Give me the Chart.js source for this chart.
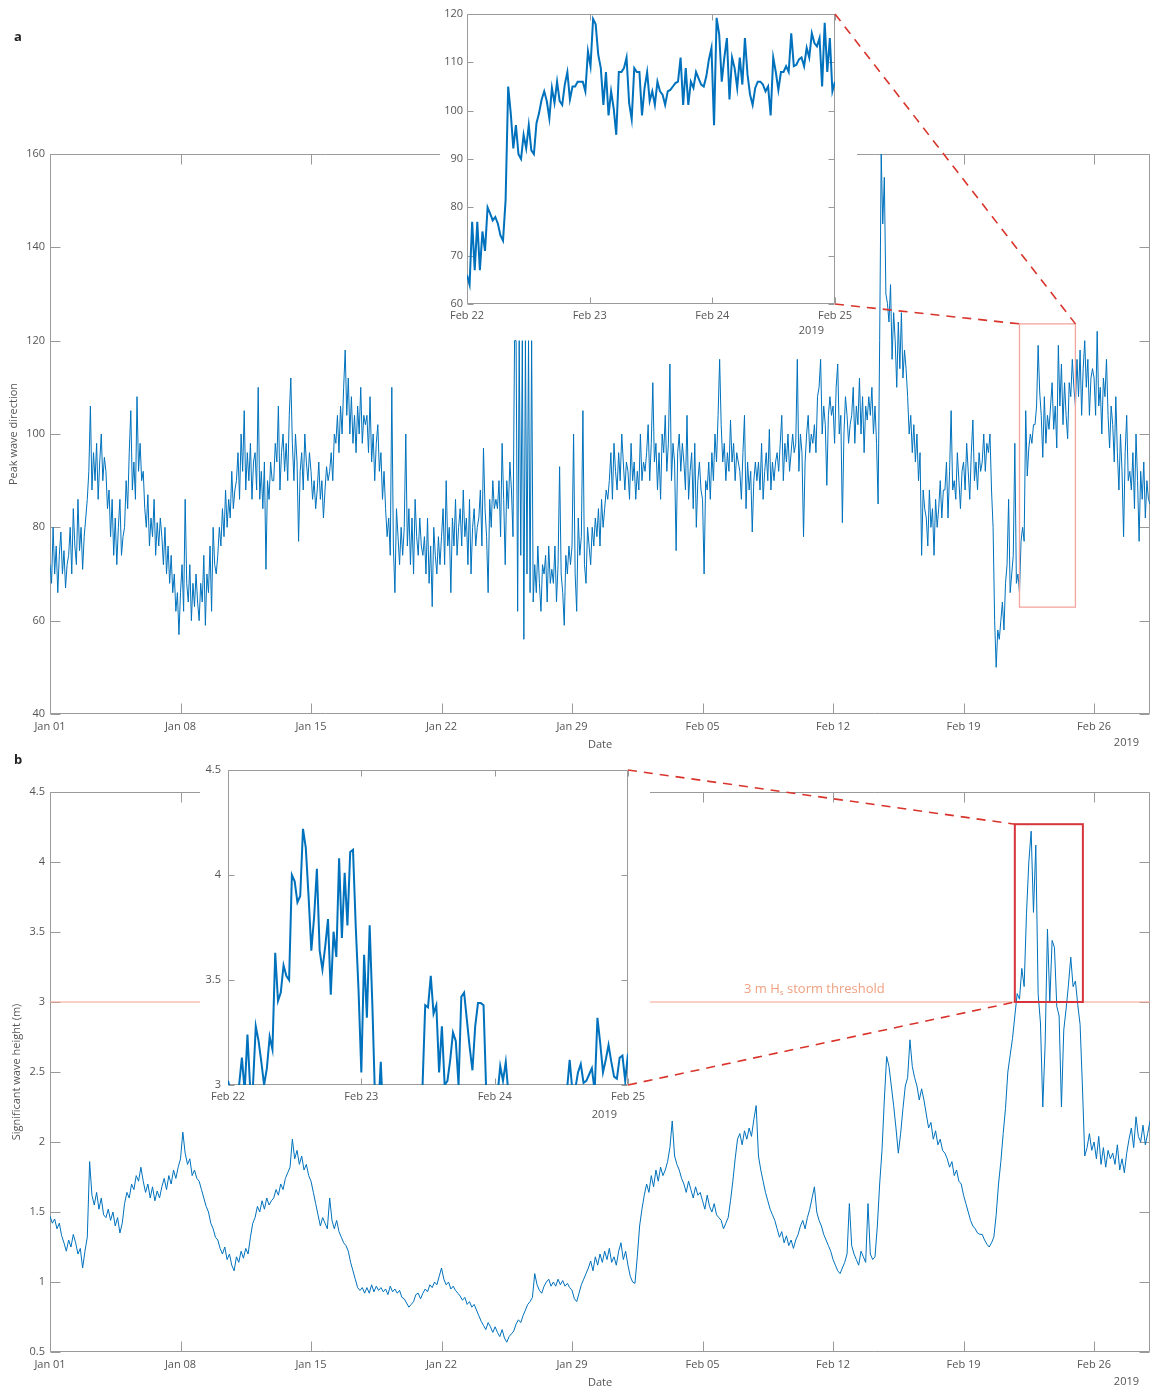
<!DOCTYPE html>
<html>
<head>
<meta charset="utf-8">
<script src="https://cdn.jsdelivr.net/npm/chart.js@4.4.1/dist/chart.umd.min.js"></script>
<style>
body { margin: 0; background: #fff; }
#page { position: relative; width: 1150px; height: 1391px; overflow: hidden; font-family: "Open Sans", sans-serif; }
canvas { position: absolute; }
.panel { position: absolute; font-weight: bold; font-size: 13px; color: #222; z-index: 5; }
</style>
</head>
<body>
<div id="page">
  <canvas id="main-a" style="z-index:1"></canvas>
  <canvas id="inset-a" style="z-index:2"></canvas>
  <canvas id="main-b" style="z-index:1"></canvas>
  <canvas id="inset-b" style="z-index:2"></canvas>
  <canvas id="links" width="1150" height="1391" style="left:0;top:0;z-index:3"></canvas>
  <div class="panel" style="left:14px;top:27px">a</div>
  <div class="panel" style="left:14px;top:750px">b</div>
</div>
<script>
// x axis is in days since Jan 01 2019
const main_tick_days = [0, 7, 14, 21, 28, 35, 42, 49, 56];
const main_tick_labels = ['Jan 01', 'Jan 08', 'Jan 15', 'Jan 22', 'Jan 29', 'Feb 05', 'Feb 12', 'Feb 19', 'Feb 26'];
const inset_tick_days = [52, 53, 54, 55];
const inset_tick_labels = ['Feb 22', 'Feb 23', 'Feb 24', 'Feb 25'];
const year_label = '2019';

// peak wave direction, every 2 hours from Jan 01 (one row per day)
const peak_dir = [
    72, 68, 80, 70, 76, 66, 74, 79, 70, 75, 67, 72,
    74, 80, 70, 84, 76, 72, 86, 75, 80, 71, 78, 82,
    86, 92, 106, 88, 96, 90, 98, 86, 94, 100, 90, 95,
    92, 84, 88, 78, 86, 74, 82, 72, 80, 86, 74, 78,
    80, 90, 84, 96, 105, 88, 94, 86, 108, 92, 98, 90,
    92, 84, 80, 87, 76, 82, 78, 86, 74, 81, 76, 82,
    78, 72, 80, 70, 76, 68, 74, 66, 70, 62, 66, 57,
    66, 72, 62, 86, 68, 64, 72, 60, 68, 63, 70, 64,
    60, 68, 64, 74, 59, 70, 66, 76, 62, 80, 72, 70,
    74, 80, 76, 84, 78, 88, 80, 86, 82, 92, 84, 88,
    90, 96, 86, 100, 92, 105, 88, 96, 90, 98, 86, 94,
    96, 88, 110, 86, 92, 84, 94, 71, 90, 86, 94, 90,
    90, 98, 94, 106, 88, 96, 100, 92, 98, 90, 104, 112,
    98, 90, 100, 94, 77, 92, 96, 88, 100, 94, 90, 96,
    92, 86, 90, 84, 88, 94, 86, 90, 82, 88, 93, 90,
    92, 96, 90, 100, 98, 104, 96, 106, 100, 110, 118, 104,
    112, 100, 108, 98, 104, 96, 106, 100, 110, 98, 104, 102,
    104, 96, 108, 94, 100, 90, 98, 102, 92, 96, 86, 92,
    84, 78, 82, 74, 110, 76, 66, 84, 78, 72, 80, 74,
    80, 100, 76, 84, 72, 82, 70, 86, 78, 74, 82, 76,
    74, 78, 70, 82, 68, 76, 63, 80, 74, 70, 78, 72,
    78, 84, 72, 90, 76, 80, 66, 82, 76, 86, 74, 80,
    84, 76, 88, 78, 82, 72, 86, 70, 80, 84, 76, 80,
    82, 88, 76, 97, 84, 78, 66, 86, 80, 90, 84, 86,
    84, 90, 78, 98, 86, 72, 90, 84, 94, 88, 78, 120,
    120, 62, 120, 74, 120, 56, 120, 70, 120, 66, 120, 64,
    72, 66, 76, 68, 62, 72, 70, 74, 64, 76, 68, 71,
    68, 76, 64, 72, 93, 70, 66, 59, 74, 70, 76, 72,
    76, 100, 70, 62, 82, 74, 78, 105, 72, 68, 80, 76,
    72, 80, 76, 82, 78, 84, 76, 86, 80, 84, 88, 86,
    90, 96, 86, 98, 92, 88, 96, 90, 100, 94, 88, 94,
    92, 86, 98, 90, 94, 86, 92, 88, 100, 90, 94, 92,
    96, 102, 90, 98, 111, 94, 98, 88, 96, 86, 100, 96,
    104, 92, 98, 115, 90, 98, 94, 75, 96, 100, 92, 98,
    94, 88, 104, 86, 92, 96, 84, 98, 80, 90, 94, 88,
    86, 70, 90, 88, 94, 86, 96, 90, 100, 94, 104, 116,
    102, 94, 98, 90, 96, 92, 103, 94, 98, 90, 96, 94,
    92, 86, 96, 104, 84, 94, 88, 92, 79, 90, 94, 90,
    94, 88, 98, 86, 92, 96, 90, 101, 88, 94, 90, 94,
    96, 92, 98, 104, 90, 98, 94, 100, 92, 96, 100, 96,
    98, 116, 92, 100, 96, 78, 94, 100, 104, 96, 100, 98,
    102, 96, 108, 110, 116, 100, 106, 102, 89, 104, 108, 104,
    106, 98, 110, 115, 100, 104, 81, 100, 108, 104, 98, 102,
    104, 110, 98, 106, 102, 112, 100, 108, 96, 106, 103, 108,
    104, 110, 100, 106, 98, 85, 120, 160, 145, 155, 130, 128,
    124, 132, 116, 126, 120, 110, 124, 114, 126, 112, 118, 114,
    108, 100, 104, 96, 102, 94, 100, 90, 96, 74, 88, 84,
    82, 76, 88, 80, 84, 74, 86, 80, 84, 90, 82, 88,
    88, 94, 82, 92, 105, 88, 90, 86, 96, 90, 84, 92,
    94, 88, 98, 92, 86, 96, 103, 90, 94, 88, 96, 92,
    94, 100, 92, 98, 96, 100, 88, 80, 60, 50, 58, 56,
    60, 64, 58, 68, 72, 86, 66, 70, 74, 98, 68, 70,
    66, 77, 80, 77, 105, 91, 97, 100, 98, 102, 102, 106,
    119, 109, 104, 95, 108, 98, 104, 101, 106, 111, 101, 106,
    97, 119, 106, 115, 102, 111, 104, 99, 111, 108, 116, 110,
    106, 116, 108, 118, 104, 114, 120, 110, 116, 104, 112, 114,
    112, 104, 122, 106, 110, 100, 112, 108, 116, 104, 97, 106,
    102, 94, 108, 96, 88, 100, 92, 78, 96, 104, 90, 92,
    88, 96, 84, 100, 90, 77, 92, 86, 94, 82, 90, 86,
    85
];

// peak wave direction, Feb 22 - Feb 25, half hourly
const peak_dir_zoom = [
    66, 64, 77, 67, 77, 67, 75, 71, 80, 78.7,
    77.3, 78, 76.6, 74.2, 73.1, 81.5, 105, 99.5, 92.2, 97,
    91, 90, 95, 92.2, 97, 91.8, 91, 97.4, 99.5, 102.3,
    104, 102, 98.4, 104.7, 101.6, 106, 102, 101.2, 105.4, 108,
    102.3, 105, 105, 106, 106, 106, 104, 112.3, 109.2, 119,
    117.9, 111.6, 108.8, 101.2, 108, 99, 104, 100.5, 95, 108,
    108, 108.8, 111, 101.6, 98.2, 108.8, 108, 108, 99, 104.7,
    108, 102, 104, 101.2, 106, 104, 103.3, 101.2, 104, 104.3,
    105, 105.7, 106, 111, 101.2, 108.8, 101.2, 106, 104.7, 108,
    106.7, 105.4, 105, 107.1, 110.6, 113, 97, 119.2, 115.8, 106,
    111, 115, 102.3, 111, 108.8, 104.7, 111, 105.4, 115, 107.5,
    103.3, 101.2, 104.7, 106, 106, 105.4, 104, 105, 99, 111,
    108, 104.3, 108, 108, 109.2, 108, 116, 109.2, 109.5, 110.6,
    111, 109.2, 113, 111, 116, 114, 113.3, 115, 105, 118.2,
    108, 115, 104, 106
];

// significant wave height (m), every 3 hours from Jan 01 (one row per day)
const wave_height = [
    1.47, 1.42, 1.45, 1.38, 1.42, 1.33, 1.28, 1.22,
    1.30, 1.25, 1.34, 1.28, 1.20, 1.24, 1.10, 1.22,
    1.32, 1.86, 1.62, 1.55, 1.64, 1.52, 1.60, 1.48,
    1.46, 1.52, 1.44, 1.50, 1.40, 1.46, 1.35, 1.42,
    1.56, 1.64, 1.60, 1.70, 1.66, 1.76, 1.72, 1.82,
    1.72, 1.64, 1.70, 1.60, 1.68, 1.58, 1.65, 1.60,
    1.68, 1.74, 1.66, 1.76, 1.70, 1.80, 1.74, 1.82,
    1.88, 2.07, 1.92, 1.84, 1.88, 1.76, 1.80, 1.74,
    1.72, 1.66, 1.60, 1.54, 1.50, 1.42, 1.38, 1.32,
    1.30, 1.24, 1.20, 1.25, 1.16, 1.20, 1.12, 1.08,
    1.18, 1.14, 1.22, 1.17, 1.24, 1.20, 1.32, 1.42,
    1.46, 1.54, 1.50, 1.58, 1.52, 1.60, 1.55, 1.58,
    1.60, 1.66, 1.62, 1.70, 1.66, 1.74, 1.78, 1.82,
    2.02, 1.88, 1.94, 1.84, 1.90, 1.80, 1.84, 1.76,
    1.72, 1.64, 1.56, 1.48, 1.40, 1.46, 1.42, 1.38,
    1.60, 1.44, 1.38, 1.44, 1.36, 1.32, 1.28, 1.26,
    1.22, 1.14, 1.08, 1.02, 0.96, 0.94, 0.96, 0.92,
    0.96, 0.92, 0.98, 0.93, 0.97, 0.94, 0.96, 0.93,
    0.95, 0.91, 0.97, 0.93, 0.95, 0.92, 0.94, 0.89,
    0.88, 0.85, 0.82, 0.84, 0.86, 0.91, 0.92, 0.88,
    0.92, 0.95, 0.93, 0.98, 0.96, 1.00, 0.98, 1.04,
    1.10, 1.02, 0.98, 1.00, 0.95, 0.97, 0.94, 0.92,
    0.90, 0.87, 0.89, 0.84, 0.86, 0.82, 0.84, 0.80,
    0.76, 0.72, 0.69, 0.66, 0.71, 0.68, 0.64, 0.68,
    0.64, 0.61, 0.66, 0.60, 0.57, 0.61, 0.63, 0.65,
    0.70, 0.73, 0.71, 0.76, 0.80, 0.84, 0.86, 0.89,
    1.06, 0.98, 0.94, 0.92, 0.97, 1.00, 1.02, 0.97,
    1.00, 0.97, 1.02, 0.98, 1.01, 0.97, 0.99, 0.96,
    0.94, 0.88, 0.86, 0.92, 0.98, 1.02, 1.06, 1.10,
    1.15, 1.08, 1.18, 1.12, 1.20, 1.14, 1.22, 1.16,
    1.24, 1.14, 1.18, 1.12, 1.22, 1.28, 1.16, 1.22,
    1.12, 1.04, 1.00, 0.99, 1.18, 1.40, 1.52, 1.62,
    1.70, 1.64, 1.76, 1.68, 1.80, 1.72, 1.82, 1.76,
    1.80, 1.86, 1.96, 2.15, 1.90, 1.84, 1.80, 1.74,
    1.70, 1.64, 1.72, 1.66, 1.60, 1.68, 1.62, 1.64,
    1.58, 1.52, 1.62, 1.54, 1.50, 1.56, 1.48, 1.46,
    1.44, 1.38, 1.42, 1.46, 1.58, 1.72, 1.88, 2.02,
    2.06, 1.98, 2.08, 2.02, 2.10, 2.04, 2.16, 2.26,
    1.90, 1.80, 1.72, 1.64, 1.58, 1.52, 1.48, 1.44,
    1.38, 1.32, 1.36, 1.28, 1.33, 1.26, 1.30, 1.24,
    1.30, 1.34, 1.40, 1.44, 1.38, 1.46, 1.52, 1.60,
    1.68, 1.50, 1.44, 1.40, 1.34, 1.30, 1.26, 1.22,
    1.16, 1.12, 1.08, 1.06, 1.10, 1.14, 1.20, 1.56,
    1.26, 1.20, 1.16, 1.12, 1.22, 1.18, 1.14, 1.56,
    1.20, 1.16, 1.18, 1.40, 1.70, 1.94, 2.30, 2.61,
    2.54, 2.40, 2.26, 2.10, 1.92, 2.06, 2.24, 2.40,
    2.46, 2.73, 2.54, 2.46, 2.40, 2.30, 2.38, 2.30,
    2.20, 2.10, 2.14, 2.02, 2.08, 1.98, 2.02, 1.94,
    1.92, 1.88, 1.82, 1.86, 1.76, 1.80, 1.72, 1.70,
    1.62, 1.56, 1.50, 1.44, 1.40, 1.38, 1.35, 1.34,
    1.34, 1.30, 1.27, 1.25, 1.28, 1.32, 1.48, 1.70,
    1.86, 2.06, 2.24, 2.50, 2.62, 2.74, 2.90, 3.06,
    3.02, 3.24, 3.11, 3.63, 4.00, 4.22, 3.64, 4.12,
    3.06, 2.85, 2.25, 2.70, 3.52, 3.00, 3.44, 3.39,
    2.97, 2.90, 2.25, 2.80, 2.95, 3.12, 3.32, 3.11,
    3.15, 2.98, 2.84, 2.40, 1.90, 1.96, 2.06, 1.94,
    2.00, 1.88, 2.04, 1.84, 1.96, 1.82, 1.94, 1.88,
    1.92, 1.84, 1.98, 1.80, 1.88, 1.78, 1.92, 2.02,
    2.10, 1.96, 2.18, 2.04, 2.00, 2.12, 1.98, 2.06,
    2.15
];

// significant wave height, Feb 22 - Feb 25, half hourly
const wave_height_zoom = [
    3.02, 2.97, 2.95, 2.97, 3.00, 3.13, 2.97, 3.24, 2.98, 3.00,
    3.28, 3.21, 3.11, 3.00, 3.08, 3.23, 3.17, 3.63, 3.40, 3.44,
    3.57, 3.52, 3.50, 4.00, 3.97, 3.87, 3.90, 4.22, 4.13, 3.90,
    3.64, 3.80, 4.03, 3.64, 3.55, 3.66, 3.79, 3.43, 3.73, 3.61,
    4.08, 3.70, 4.01, 3.76, 4.11, 4.12, 3.75, 3.45, 3.06, 3.62,
    3.32, 3.76, 3.37, 2.90, 2.85, 3.11, 2.80, 2.60, 2.40, 2.25,
    2.30, 2.50, 2.70, 2.80, 2.90, 2.80, 2.70, 2.80, 2.90, 2.95,
    2.98, 3.38, 3.37, 3.52, 3.34, 3.38, 3.06, 3.28, 3.00, 3.02,
    3.12, 3.25, 3.21, 3.00, 3.42, 3.44, 3.31, 3.18, 3.07, 3.28,
    3.39, 3.39, 3.38, 2.95, 2.85, 2.90, 2.97, 2.95, 3.09, 3.02,
    3.11, 2.95, 2.90, 2.85, 2.80, 2.70, 2.60, 2.50, 2.40, 2.30,
    2.25, 2.40, 2.60, 2.70, 2.80, 2.90, 2.85, 2.90, 2.95, 2.90,
    2.95, 2.98, 2.97, 3.12, 2.97, 2.98, 3.06, 3.10, 3.01, 3.02,
    3.05, 3.08, 2.97, 3.32, 3.20, 3.06, 3.12, 3.19, 3.11, 3.04,
    3.03, 3.13, 3.14, 3.02, 3.15
];

const storm_threshold = 3;
// zoom boxes: [day from, day to, value from, value to]
const zoom_box_a = [52, 55, 62.9, 123.6];
const zoom_box_b = [51.75, 55.4, 3, 4.27];

const line_blue = '#0072BD';
const axis_color = '#9a9a9a';
const text_color = '#555';
const font_family = '"Open Sans", sans-serif';

function to_points(values, start_day, step_days)
{
    return values.map((v, i) => ({x: start_day + i * step_days, y: v}));
}

const axes_box = {
    id: 'axes_box',
    beforeDraw(chart, args, opts) {
        const ctx = chart.ctx;
        ctx.save();
        ctx.fillStyle = '#fff';
        ctx.fillRect(0, 0, chart.width, chart.height);
        ctx.restore();
    },
    beforeDatasetsDraw(chart, args, opts) {
        const {ctx, chartArea: a, scales: {x, y}} = chart;
        const l = Math.round(a.left) + 0.5, r = Math.round(a.right) - 0.5;
        const t = Math.round(a.top) + 0.5, b = Math.round(a.bottom) - 0.5;
        const len = opts.tick_len;
        ctx.save();
        ctx.strokeStyle = axis_color;
        ctx.lineWidth = 1;
        ctx.beginPath();
        ctx.rect(l, t, r - l, b - t);
        x.ticks.forEach(tk => {
            const px = Math.round(x.getPixelForValue(tk.value)) + 0.5;
            ctx.moveTo(px, b); ctx.lineTo(px, b - len);
            ctx.moveTo(px, t); ctx.lineTo(px, t + len);
        });
        y.ticks.forEach(tk => {
            const py = Math.round(y.getPixelForValue(tk.value)) + 0.5;
            ctx.moveTo(l, py); ctx.lineTo(l + len, py);
            ctx.moveTo(r, py); ctx.lineTo(r - len, py);
        });
        ctx.stroke();
        ctx.restore();
    },
    afterDatasetsDraw(chart, args, opts) {
        const {ctx, scales: {x, y}} = chart;
        if (opts.zoom_box) {
            const [d0, d1, v0, v1] = opts.zoom_box;
            ctx.save();
            ctx.strokeStyle = opts.zoom_color;
            ctx.lineWidth = opts.zoom_width;
            const x0 = x.getPixelForValue(d0), x1 = x.getPixelForValue(d1);
            const y0 = y.getPixelForValue(v0), y1 = y.getPixelForValue(v1);
            ctx.strokeRect(x0, y1, x1 - x0, y0 - y1);
            ctx.restore();
        }
        if (opts.threshold_label) {
            // "3 m Hs storm threshold" with subscript s
            const px = x.getPixelForValue(opts.threshold_label.day);
            const py = y.getPixelForValue(storm_threshold) - 13;
            const big = '13px ' + font_family, small = '8px ' + font_family;
            const parts = [['3 m H', big, 0], ['s', small, 4], [' storm threshold', big, 0]];
            ctx.save();
            ctx.fillStyle = '#f0a080';
            ctx.textBaseline = 'middle';
            ctx.textAlign = 'left';
            let total = 0;
            parts.forEach(p => { ctx.font = p[1]; total += ctx.measureText(p[0]).width; });
            let cx = px - total / 2;
            parts.forEach(p => {
                ctx.font = p[1];
                ctx.fillText(p[0], cx, py + p[2]);
                cx += ctx.measureText(p[0]).width;
            });
            ctx.restore();
        }
    },
    afterDraw(chart, args, opts) {
        const {ctx, chartArea: a} = chart;
        ctx.save();
        ctx.font = '11px ' + font_family;
        ctx.fillStyle = text_color;
        ctx.textAlign = 'right';
        ctx.textBaseline = 'middle';
        ctx.fillText(year_label, a.right - 11, a.bottom + opts.year_dy);
        ctx.restore();
    }
};

function build_chart(id, spec)
{
    const el = document.getElementById(id);
    el.width = spec.w;
    el.height = spec.h;
    el.style.left = spec.left + 'px';
    el.style.top = spec.top + 'px';
    const tick_font = {family: font_family, size: 11};
    return new Chart(el, {
        type: 'line',
        data: {datasets: spec.datasets},
        options: {
            responsive: false,
            animation: false,
            events: [],
            layout: {padding: spec.pad},
            elements: {point: {radius: 0}, line: {tension: 0}},
            plugins: {
                legend: {display: false},
                tooltip: {enabled: false},
                axes_box: spec.box
            },
            scales: {
                x: {
                    type: 'linear',
                    min: spec.x_min,
                    max: spec.x_max,
                    afterFit: s => { s.height = spec.x_h; },
                    afterBuildTicks: s => { s.ticks = spec.x_ticks.map(v => ({value: v})); },
                    grid: {display: false, drawTicks: false},
                    border: {display: false},
                    ticks: {
                        padding: spec.x_pad, color: text_color, font: tick_font,
                        autoSkip: false, maxRotation: 0,
                        callback: (v, i) => spec.x_labels[i]
                    },
                    title: spec.x_title ? {
                        display: true, text: spec.x_title, color: text_color, font: tick_font,
                        padding: {top: 0, bottom: spec.x_title_pad}
                    } : {display: false}
                },
                y: {
                    min: spec.y_min,
                    max: spec.y_max,
                    afterFit: s => { s.width = spec.y_w; },
                    grid: {display: false, drawTicks: false},
                    border: {display: false},
                    ticks: {
                        stepSize: spec.y_step, padding: spec.y_pad, color: text_color, font: tick_font,
                        callback: v => String(Math.round(v * 100) / 100)
                    },
                    title: spec.y_title ? {
                        display: true, text: spec.y_title, color: text_color, font: tick_font,
                        padding: {top: spec.y_title_pad, bottom: 0}
                    } : {display: false}
                }
            }
        },
        plugins: [axes_box]
    });
}

const main_a = build_chart('main-a', {
    left: 0, top: 0, w: 1150, h: 760,
    pad: {top: 154, right: 0, left: 0, bottom: 0},
    x_min: 0, x_max: 59, x_h: 46, x_ticks: main_tick_days, x_labels: main_tick_labels, x_pad: 6,
    x_title: 'Date', x_title_pad: 8.4,
    y_min: 40, y_max: 160, y_step: 20, y_w: 50, y_pad: 5,
    y_title: 'Peak wave direction', y_title_pad: 7.4,
    box: {tick_len: 10, year_dy: 29, zoom_box: zoom_box_a, zoom_color: '#f3a49c', zoom_width: 1.3},
    datasets: [{data: to_points(peak_dir, 0, 1 / 12), borderColor: line_blue, borderWidth: 1}]
});

const inset_a = build_chart('inset-a', {
    left: 440, top: 0, w: 417, h: 338,
    pad: {top: 14, right: 21, left: 0, bottom: 0},
    x_min: 52, x_max: 55, x_h: 34, x_ticks: inset_tick_days, x_labels: inset_tick_labels, x_pad: 5,
    y_min: 60, y_max: 120, y_step: 10, y_w: 27, y_pad: 4,
    box: {tick_len: 6, year_dy: 27},
    datasets: [{
        data: to_points(peak_dir_zoom, 52, 3 / (peak_dir_zoom.length - 1)),
        borderColor: line_blue, borderWidth: 2, clip: 0
    }]
});

const main_b = build_chart('main-b', {
    left: 0, top: 760, w: 1150, h: 631,
    pad: {top: 32, right: 0, left: 0, bottom: 0},
    x_min: 0, x_max: 59, x_h: 39, x_ticks: main_tick_days, x_labels: main_tick_labels, x_pad: 6,
    x_title: 'Date', x_title_pad: 1.5,
    y_min: 0.5, y_max: 4.5, y_step: 0.5, y_w: 50, y_pad: 5,
    y_title: 'Significant wave height (m)', y_title_pad: 10,
    box: {tick_len: 10, year_dy: 30, zoom_box: zoom_box_b, zoom_color: '#d8343c', zoom_width: 2,
          threshold_label: {day: 41}},
    datasets: [
        {data: to_points(wave_height, 0, 1 / 8), borderColor: line_blue, borderWidth: 1},
        {data: [{x: 0, y: storm_threshold}, {x: 59, y: storm_threshold}], borderColor: '#f4a090', borderWidth: 1.2}
    ]
});

const inset_b = build_chart('inset-b', {
    left: 200, top: 755, w: 450, h: 372,
    pad: {top: 15, right: 21, left: 0, bottom: 0},
    x_min: 52, x_max: 55, x_h: 42, x_ticks: inset_tick_days, x_labels: inset_tick_labels, x_pad: 5,
    y_min: 3, y_max: 4.5, y_step: 0.5, y_w: 28, y_pad: 7,
    box: {tick_len: 6, year_dy: 30},
    datasets: [{
        data: to_points(wave_height_zoom, 52, 3 / (wave_height_zoom.length - 1)),
        borderColor: line_blue, borderWidth: 2, clip: 0
    }]
});

// dashed connectors between each inset and its zoom box
function page_point(chart, day, value)
{
    const el = chart.canvas;
    return [el.offsetLeft + chart.scales.x.getPixelForValue(day), el.offsetTop + chart.scales.y.getPixelForValue(value)];
}

function inset_corner(chart, which)
{
    const el = chart.canvas, a = chart.chartArea;
    return [el.offsetLeft + a.right, el.offsetTop + (which === 'top' ? a.top : a.bottom)];
}

function draw_links()
{
    const ctx = document.getElementById('links').getContext('2d');
    ctx.strokeStyle = '#d9342b';
    ctx.lineWidth = 1.6;
    ctx.setLineDash([9, 7]);
    const pairs = [
        [inset_corner(inset_a, 'top'), page_point(main_a, zoom_box_a[1], zoom_box_a[3])],
        [inset_corner(inset_a, 'bottom'), page_point(main_a, zoom_box_a[0], zoom_box_a[3])],
        [inset_corner(inset_b, 'top'), page_point(main_b, zoom_box_b[0], zoom_box_b[3])],
        [inset_corner(inset_b, 'bottom'), page_point(main_b, zoom_box_b[0], zoom_box_b[2])]
    ];
    pairs.forEach(p => {
        ctx.beginPath();
        ctx.moveTo(p[0][0], p[0][1]);
        ctx.lineTo(p[1][0], p[1][1]);
        ctx.stroke();
    });
}

draw_links();
</script>
</body>
</html>
